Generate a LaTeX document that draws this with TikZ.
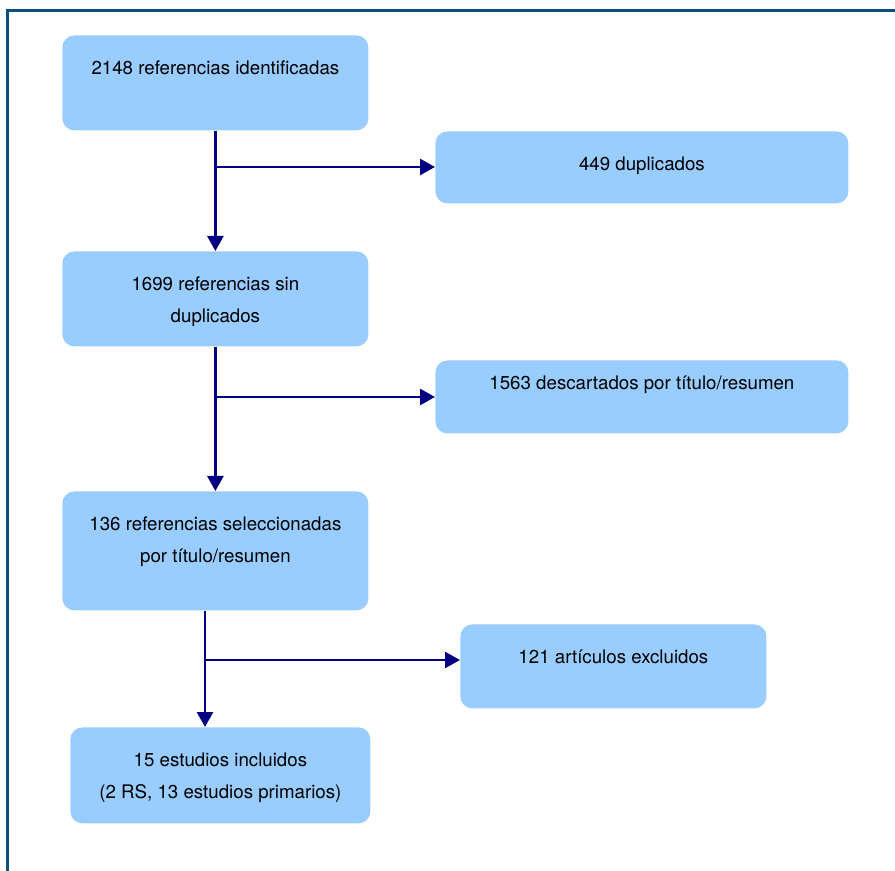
\documentclass[tikz,border=0pt]{standalone}
\usepackage{fontspec}
\setmainfont{TeX Gyre Heros}
\usetikzlibrary{arrows.meta, positioning}
\definecolor{cajaazul}{HTML}{99CCFF}
\definecolor{flechaazul}{HTML}{000080}
\definecolor{marco}{HTML}{0B4F82}

\begin{document}
\begin{tikzpicture}[x=0.5pt, y=-0.5pt,
    caja/.style={fill=cajaazul, rounded corners=6pt, anchor=north west, align=center,
      inner xsep=0pt, inner ysep=0pt, text height=19.5pt,
      font=\fontsize{9.35}{16}\selectfont},
    dosLineas/.style={text height=35.5pt},
    flecha/.style={flechaazul, line width=1.3pt, -{Triangle[length=7.5pt,width=8pt]}}]
  \useasboundingbox (0,0) rectangle (895,871);

  % Frame
  \draw[marco, line width=1.5pt] (7,871) -- (7,11) -- (895,11);

  % Main column
  \node[caja, minimum width=153pt, text depth=28pt] (ident) at (62,35)
    {2148 referencias identificadas};
  \node[caja, dosLineas, minimum width=153pt, text depth=12pt] (sinDup) at (62,251)
    {1699 referencias sin\\duplicados};
  \node[caja, dosLineas, minimum width=153pt, text depth=24pt] (sel) at (62,491)
    {136 referencias seleccionadas\\por título/resumen};
  \node[caja, dosLineas, minimum width=150pt, text depth=12.5pt] (incl) at (70,727)
    {15 estudios incluidos\\(2 RS, 13 estudios primarios)};

  % Side boxes
  \node[caja, minimum width=206.5pt, text depth=16.5pt] (dup) at (435,131)
    {449 duplicados};
  \node[caja, minimum width=206.5pt, text height=14.5pt, text depth=22pt] (desc) at (435,360)
    {1563 descartados por título/resumen};
  \node[caja, minimum width=153pt, text depth=22.5pt] (excl) at (460,624)
    {121 artículos excluidos};

  % Branch points
  \coordinate (r1) at (215,167);
  \coordinate (r2) at (215,397);
  \coordinate (r3) at (205,660);

  % Arrows
  \draw[flecha] (ident.south) -- (sinDup.north);
  \draw[flecha] (r1) -- (r1 -| dup.west);
  \draw[flecha] (sinDup.south) -- (sel.north);
  \draw[flecha] (r2) -- (r2 -| desc.west);
  \draw[flecha] (r3 |- sel.south) -- (r3 |- incl.north);
  \draw[flecha] (r3) -- (r3 -| excl.west);
\end{tikzpicture}
\end{document}
